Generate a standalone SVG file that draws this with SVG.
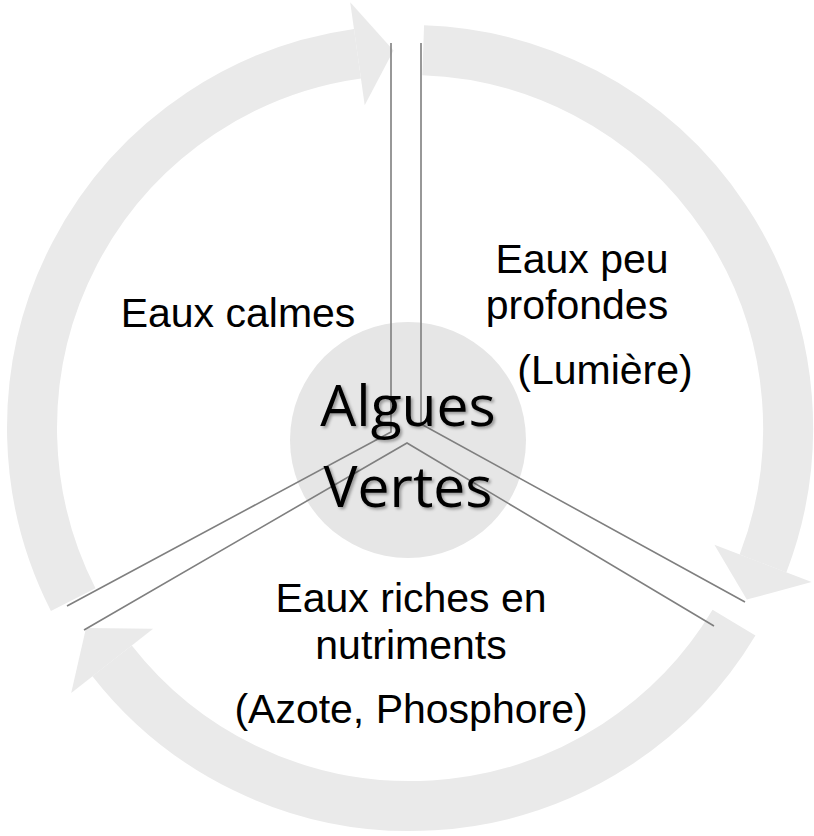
<svg xmlns="http://www.w3.org/2000/svg" width="814" height="836" viewBox="0 0 814 836">
<style>
.arc{fill:none;stroke:#eaeaea;stroke-width:50}
.head{fill:#eaeaea}
.sep{stroke:#7f7f7f;stroke-width:1.6;fill:none}
.t{font-family:"Liberation Sans",Arial,sans-serif;font-size:41px;fill:#000;text-anchor:middle}
.c{font-family:"Open Sans","Noto Sans",sans-serif;font-size:57px;fill:#000;text-anchor:middle}
</style>
<defs><filter id="sh" x="-20%" y="-20%" width="140%" height="140%"><feDropShadow dx="2" dy="2" stdDeviation="1.5" flood-color="#000" flood-opacity="0.35"/></filter></defs>
<g id="ring">
<path class="arc" d="M73.2,599.6 A378,378 0 0 1 357.5,53.7"/>
<polygon class="head" points="350.2,2.3 393.5,50.4 364.7,105.3"/>
<path class="arc" d="M423.2,50.2 A378,378 0 0 1 763,563.5"/>
<polygon class="head" points="811.6,582.1 746.8,599.6 714.4,544.7"/>
<path class="arc" d="M734,622.7 A378,378 0 0 1 112.1,660.8"/>
<polygon class="head" points="71.2,692.9 86,628 153.1,628.8"/>
</g>
<g id="center">
<circle cx="408" cy="440" r="118" fill="#e6e6e6"/>
</g>
<g id="connectors">
<polyline class="sep" points="391,43 391,432 67,606"/>
<polyline class="sep" points="421,43 421,424 745,602"/>
<polyline class="sep" points="84,630 407,443 714,626"/>
</g>
<g id="label-center" filter="url(#sh)">
<text class="c" x="408" y="426">Algues</text>
<text class="c" x="408" y="507">Vertes</text>
</g>
<g id="node-calmes"><text class="t" x="238" y="327">Eaux calmes</text></g>
<g id="node-profondes">
<text class="t" x="582" y="273">Eaux peu</text>
<text class="t" x="577" y="319">profondes</text>
<text class="t" x="605" y="384">(Lumière)</text>
</g>
<g id="node-riches">
<text class="t" x="411" y="612">Eaux riches en</text>
<text class="t" x="411" y="659">nutriments</text>
<text class="t" x="411" y="723">(Azote, Phosphore)</text>
</g>
</svg>
